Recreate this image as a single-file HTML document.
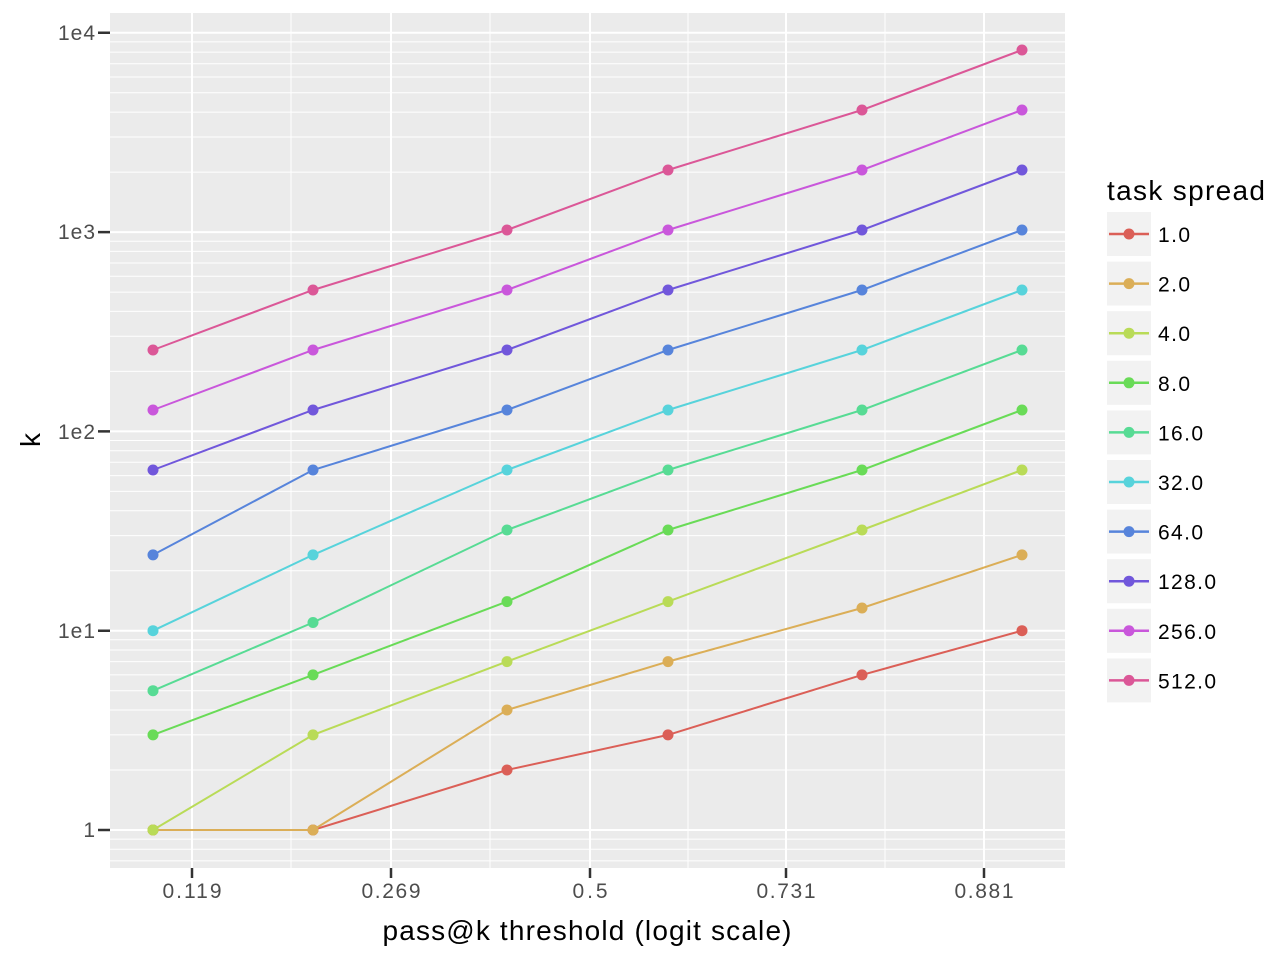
<!DOCTYPE html>
<html><head><style>body{margin:0;background:#fff}svg{display:block}text{font-family:"Liberation Sans",sans-serif}</style></head><body>
<svg width="1280" height="960" xmlns="http://www.w3.org/2000/svg">
<rect x="110" y="13" width="955" height="855" fill="#ebebeb"/>
<g stroke="#fff" stroke-width="1">
<path d="M110 770H1065M110 734.9H1065M110 710H1065M110 690.7H1065M110 674.9H1065M110 661.6H1065M110 650H1065M110 639.8H1065M110 570.7H1065M110 535.6H1065M110 510.7H1065M110 491.4H1065M110 475.6H1065M110 462.3H1065M110 450.7H1065M110 440.5H1065M110 371.4H1065M110 336.3H1065M110 311.4H1065M110 292.1H1065M110 276.3H1065M110 263H1065M110 251.4H1065M110 241.2H1065M110 172.1H1065M110 137H1065M110 112.1H1065M110 92.8H1065M110 77H1065M110 63.7H1065M110 52.1H1065M110 41.9H1065M110 839.1H1065M110 849.3H1065M110 860.9H1065"/>
<path d="M291 13V868M490 13V868M688 13V868M885 13V868"/>
</g>
<g stroke="#fff" stroke-width="2">
<path d="M110 830H1065M110 630.7H1065M110 431.4H1065M110 232.1H1065M110 32.8H1065"/>
<path d="M192 13V868M391 13V868M590 13V868M786 13V868M984 13V868"/>
</g>
<g stroke="#333" stroke-width="2.5">
<path d="M98 830H110M98 630.7H110M98 431.4H110M98 232.1H110M98 32.8H110"/>
<path d="M192 868V878M391 868V878M590 868V878M786 868V878M984 868V878"/>
</g>
<g fill="#4d4d4d" font-size="21" text-anchor="end">
<text x="95" y="837" textLength="12">1</text><text x="95" y="638" textLength="37">1e1</text><text x="95" y="439" textLength="37">1e2</text><text x="95" y="239" textLength="37">1e3</text><text x="95" y="40" textLength="37">1e4</text>
</g>
<g fill="#4d4d4d" font-size="21" text-anchor="middle">
<text x="192" y="898" textLength="59">0.119</text><text x="391" y="898" textLength="59">0.269</text><text x="590" y="898" textLength="35">0.5</text><text x="786" y="898" textLength="59">0.731</text><text x="984" y="898" textLength="59">0.881</text>
</g>
<text x="587" y="940" font-size="28" text-anchor="middle" textLength="409">pass@k threshold (logit scale)</text>
<text transform="translate(40,440) rotate(-90)" font-size="28" text-anchor="middle">k</text>
<g fill="none" stroke-width="2">
<polyline stroke="#db5f57" points="153,830 313,830 507,770 668,734.9 862,674.9 1022,630.7"/>
<polyline stroke="#dbae57" points="153,830 313,830 507,710 668,661.6 862,608 1022,554.9"/>
<polyline stroke="#b9db57" points="153,830 313,734.9 507,661.6 668,601.6 862,530 1022,470"/>
<polyline stroke="#69db57" points="153,734.9 313,674.9 507,601.6 668,530 862,470 1022,410"/>
<polyline stroke="#57db94" points="153,690.7 313,622.5 507,530 668,470 862,410 1022,350"/>
<polyline stroke="#57d3db" points="153,630.7 313,554.9 507,470 668,410 862,350 1022,290"/>
<polyline stroke="#5784db" points="153,554.9 313,470 507,410 668,350 862,290 1022,230"/>
<polyline stroke="#7157db" points="153,470 313,410 507,350 668,290 862,230 1022,170"/>
<polyline stroke="#c957db" points="153,410 313,350 507,290 668,230 862,170 1022,110"/>
<polyline stroke="#db5797" points="153,350 313,290 507,230 668,170 862,110 1022,50"/>
</g>
<g fill="#db5f57"><circle cx="153" cy="830" r="5.5"/><circle cx="313" cy="830" r="5.5"/><circle cx="507" cy="770" r="5.5"/><circle cx="668" cy="734.9" r="5.5"/><circle cx="862" cy="674.9" r="5.5"/><circle cx="1022" cy="630.7" r="5.5"/></g>
<g fill="#dbae57"><circle cx="153" cy="830" r="5.5"/><circle cx="313" cy="830" r="5.5"/><circle cx="507" cy="710" r="5.5"/><circle cx="668" cy="661.6" r="5.5"/><circle cx="862" cy="608" r="5.5"/><circle cx="1022" cy="554.9" r="5.5"/></g>
<g fill="#b9db57"><circle cx="153" cy="830" r="5.5"/><circle cx="313" cy="734.9" r="5.5"/><circle cx="507" cy="661.6" r="5.5"/><circle cx="668" cy="601.6" r="5.5"/><circle cx="862" cy="530" r="5.5"/><circle cx="1022" cy="470" r="5.5"/></g>
<g fill="#69db57"><circle cx="153" cy="734.9" r="5.5"/><circle cx="313" cy="674.9" r="5.5"/><circle cx="507" cy="601.6" r="5.5"/><circle cx="668" cy="530" r="5.5"/><circle cx="862" cy="470" r="5.5"/><circle cx="1022" cy="410" r="5.5"/></g>
<g fill="#57db94"><circle cx="153" cy="690.7" r="5.5"/><circle cx="313" cy="622.5" r="5.5"/><circle cx="507" cy="530" r="5.5"/><circle cx="668" cy="470" r="5.5"/><circle cx="862" cy="410" r="5.5"/><circle cx="1022" cy="350" r="5.5"/></g>
<g fill="#57d3db"><circle cx="153" cy="630.7" r="5.5"/><circle cx="313" cy="554.9" r="5.5"/><circle cx="507" cy="470" r="5.5"/><circle cx="668" cy="410" r="5.5"/><circle cx="862" cy="350" r="5.5"/><circle cx="1022" cy="290" r="5.5"/></g>
<g fill="#5784db"><circle cx="153" cy="554.9" r="5.5"/><circle cx="313" cy="470" r="5.5"/><circle cx="507" cy="410" r="5.5"/><circle cx="668" cy="350" r="5.5"/><circle cx="862" cy="290" r="5.5"/><circle cx="1022" cy="230" r="5.5"/></g>
<g fill="#7157db"><circle cx="153" cy="470" r="5.5"/><circle cx="313" cy="410" r="5.5"/><circle cx="507" cy="350" r="5.5"/><circle cx="668" cy="290" r="5.5"/><circle cx="862" cy="230" r="5.5"/><circle cx="1022" cy="170" r="5.5"/></g>
<g fill="#c957db"><circle cx="153" cy="410" r="5.5"/><circle cx="313" cy="350" r="5.5"/><circle cx="507" cy="290" r="5.5"/><circle cx="668" cy="230" r="5.5"/><circle cx="862" cy="170" r="5.5"/><circle cx="1022" cy="110" r="5.5"/></g>
<g fill="#db5797"><circle cx="153" cy="350" r="5.5"/><circle cx="313" cy="290" r="5.5"/><circle cx="507" cy="230" r="5.5"/><circle cx="668" cy="170" r="5.5"/><circle cx="862" cy="110" r="5.5"/><circle cx="1022" cy="50" r="5.5"/></g>
<text x="1107" y="200" font-size="28" textLength="158">task spread</text>
<g font-size="21" fill="#000">
<g transform="translate(0,234)"><rect x="1107" y="-22" width="44" height="44" fill="#f2f2f2"/><path d="M1109 0H1149" stroke="#db5f57" stroke-width="2.5"/><circle cx="1129" cy="0" r="5.5" fill="#db5f57"/><text x="1158" y="8" textLength="32">1.0</text></g>
<g transform="translate(0,283.6)"><rect x="1107" y="-22" width="44" height="44" fill="#f2f2f2"/><path d="M1109 0H1149" stroke="#dbae57" stroke-width="2.5"/><circle cx="1129" cy="0" r="5.5" fill="#dbae57"/><text x="1158" y="8" textLength="32">2.0</text></g>
<g transform="translate(0,333.2)"><rect x="1107" y="-22" width="44" height="44" fill="#f2f2f2"/><path d="M1109 0H1149" stroke="#b9db57" stroke-width="2.5"/><circle cx="1129" cy="0" r="5.5" fill="#b9db57"/><text x="1158" y="8" textLength="32">4.0</text></g>
<g transform="translate(0,382.8)"><rect x="1107" y="-22" width="44" height="44" fill="#f2f2f2"/><path d="M1109 0H1149" stroke="#69db57" stroke-width="2.5"/><circle cx="1129" cy="0" r="5.5" fill="#69db57"/><text x="1158" y="8" textLength="32">8.0</text></g>
<g transform="translate(0,432.4)"><rect x="1107" y="-22" width="44" height="44" fill="#f2f2f2"/><path d="M1109 0H1149" stroke="#57db94" stroke-width="2.5"/><circle cx="1129" cy="0" r="5.5" fill="#57db94"/><text x="1158" y="8" textLength="45">16.0</text></g>
<g transform="translate(0,482)"><rect x="1107" y="-22" width="44" height="44" fill="#f2f2f2"/><path d="M1109 0H1149" stroke="#57d3db" stroke-width="2.5"/><circle cx="1129" cy="0" r="5.5" fill="#57d3db"/><text x="1158" y="8" textLength="45">32.0</text></g>
<g transform="translate(0,531.6)"><rect x="1107" y="-22" width="44" height="44" fill="#f2f2f2"/><path d="M1109 0H1149" stroke="#5784db" stroke-width="2.5"/><circle cx="1129" cy="0" r="5.5" fill="#5784db"/><text x="1158" y="8" textLength="45">64.0</text></g>
<g transform="translate(0,581.2)"><rect x="1107" y="-22" width="44" height="44" fill="#f2f2f2"/><path d="M1109 0H1149" stroke="#7157db" stroke-width="2.5"/><circle cx="1129" cy="0" r="5.5" fill="#7157db"/><text x="1158" y="8" textLength="58">128.0</text></g>
<g transform="translate(0,630.8)"><rect x="1107" y="-22" width="44" height="44" fill="#f2f2f2"/><path d="M1109 0H1149" stroke="#c957db" stroke-width="2.5"/><circle cx="1129" cy="0" r="5.5" fill="#c957db"/><text x="1158" y="8" textLength="58">256.0</text></g>
<g transform="translate(0,680.4)"><rect x="1107" y="-22" width="44" height="44" fill="#f2f2f2"/><path d="M1109 0H1149" stroke="#db5797" stroke-width="2.5"/><circle cx="1129" cy="0" r="5.5" fill="#db5797"/><text x="1158" y="8" textLength="58">512.0</text></g>
</g>
</svg>
</body></html>
